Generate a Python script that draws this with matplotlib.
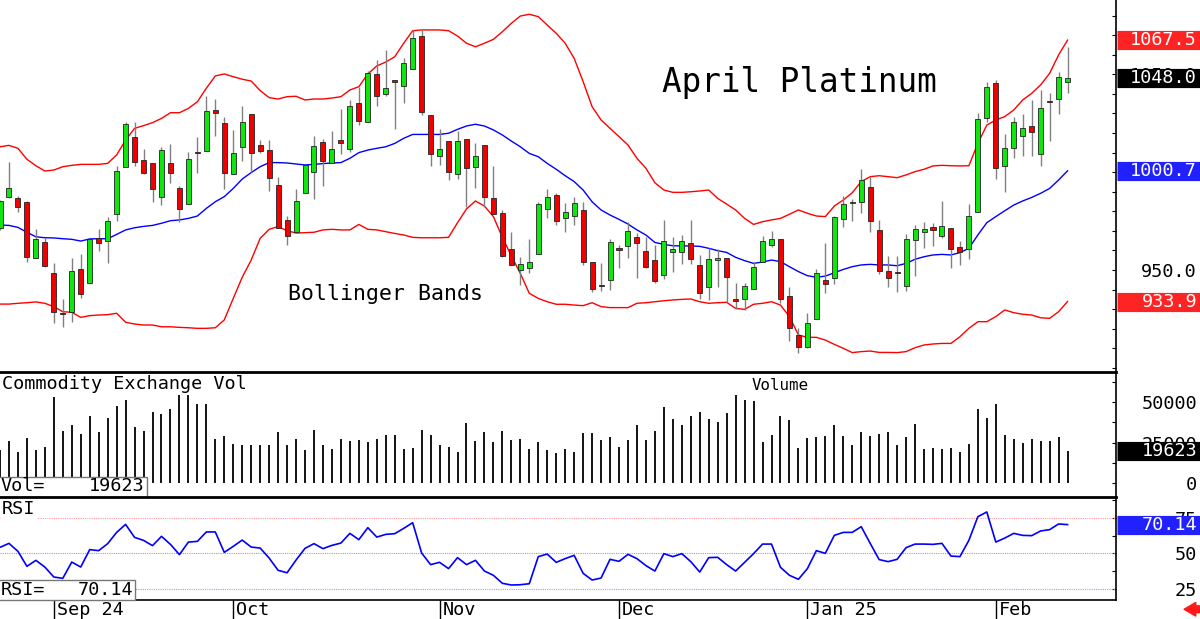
import matplotlib
matplotlib.use("Agg")
import matplotlib.pyplot as plt
import matplotlib.transforms as mtransforms
from matplotlib.patches import Rectangle
from matplotlib.ticker import MultipleLocator

plt.rcParams['font.family'] = 'DejaVu Sans Mono'

# month boundaries (candle index) and their labels
month_idx = [6, 26, 49, 69, 90, 111]
month_labels = ['Sep 24', 'Oct', 'Nov', 'Dec', 'Jan 25', 'Feb']

# daily OHLC, April platinum (Aug 23 2024 .. Feb 13 2025)
opens = [971.6, 987.5, 986.6, 984.9, 956.3, 964.5, 948.6, 927.9, 928.7, 950.7,
         943.5, 966.5, 964.7, 978.8, 1002.5, 1018.0, 1006.2, 1004.9, 987.5, 1004.5,
         991.7, 983.7, 1010.0, 1010.7, 1031.8, 1025.3, 999.1, 1012.9, 1029.9, 1013.7,
         1011.5, 993.3, 975.6, 969.3, 989.4, 1000.3, 1015.3, 1004.7, 1016.4, 1012.0,
         1035.2, 1025.6, 1050.4, 1039.8, 1047.1, 1044.0, 1052.7, 1069.6, 1029.1, 1008.4,
         1016.1, 998.9, 1016.8, 1002.5, 1014.1, 987.0, 979.0, 960.7, 950.0, 951.0,
         958.2, 981.2, 988.3, 976.6, 977.6, 980.7, 954.1, 942.2, 944.9, 961.4,
         962.4, 966.7, 959.6, 954.9, 947.5, 959.2, 959.4, 964.0, 952.6, 941.3,
         955.3, 956.3, 935.0, 935.0, 940.5, 954.1, 962.8, 966.0, 936.9, 916.8,
         910.8, 925.0, 944.9, 945.8, 975.9, 984.1, 985.0, 992.3, 970.5, 949.5,
         949.0, 941.8, 965.3, 969.6, 972.0, 967.4, 971.3, 961.8, 960.6, 979.5,
         1027.5, 1045.4, 1003.2, 1012.2, 1018.7, 1023.8, 1009.1, 1036.0, 1037.2, 1046.3]
highs = [985.8, 1005.4, 988.0, 985.3, 971.1, 966.2, 953.4, 935.0, 956.0, 958.2,
         966.0, 970.8, 977.1, 1003.2, 1025.6, 1025.5, 1012.0, 1004.9, 1013.0, 1014.2,
         993.0, 1010.1, 1018.2, 1038.8, 1037.4, 1028.4, 1021.6, 1034.0, 1029.9, 1016.4,
         1016.4, 997.7, 977.6, 991.6, 1003.5, 1018.5, 1017.0, 1020.9, 1032.1, 1036.9,
         1043.7, 1051.5, 1057.3, 1062.4, 1047.1, 1058.2, 1072.7, 1072.7, 1029.1, 1022.1,
         1016.1, 1021.2, 1016.8, 1014.7, 1014.1, 1003.2, 980.7, 969.6, 956.8, 965.7,
         984.8, 991.4, 989.2, 984.1, 987.5, 984.8, 954.1, 953.4, 966.0, 962.8,
         974.7, 968.7, 967.0, 962.8, 975.6, 967.0, 967.9, 975.6, 957.7, 961.4,
         960.6, 956.3, 943.5, 943.5, 954.3, 967.6, 969.9, 966.0, 941.5, 920.2,
         928.2, 950.3, 963.6, 977.6, 987.8, 986.1, 1001.6, 997.7, 975.6, 957.2,
         957.2, 968.2, 973.0, 974.7, 974.2, 985.3, 971.5, 965.0, 983.7, 1030.1,
         1046.3, 1047.1, 1019.5, 1028.4, 1029.6, 1036.9, 1042.0, 1040.3, 1051.4, 1063.8]
lows = [970.5, 987.0, 979.8, 953.9, 956.0, 951.4, 923.1, 921.1, 923.3, 935.5,
        943.5, 959.9, 953.8, 975.2, 1002.5, 1003.3, 999.1, 985.0, 983.4, 994.6,
        974.7, 983.7, 999.4, 1010.7, 1018.7, 991.2, 999.1, 1005.7, 999.9, 1009.6,
        990.6, 971.6, 962.8, 969.3, 989.4, 986.5, 993.1, 1004.7, 1009.3, 1010.5,
        1024.1, 1025.6, 1033.8, 1039.1, 1022.1, 1035.2, 1052.7, 1029.2, 1003.3, 1003.7,
        996.0, 996.5, 982.4, 991.7, 982.4, 978.5, 956.5, 952.6, 942.3, 948.3,
        958.2, 976.4, 972.8, 969.3, 973.2, 952.6, 938.9, 939.3, 940.0, 951.2,
        956.3, 945.9, 950.9, 943.5, 945.2, 948.8, 952.9, 952.9, 935.2, 934.7,
        941.2, 933.8, 930.2, 929.6, 940.5, 954.1, 961.6, 933.0, 913.9, 907.4,
        910.0, 925.0, 938.1, 942.9, 971.8, 975.2, 979.0, 969.3, 947.8, 941.2,
        938.6, 939.3, 947.1, 961.1, 962.4, 966.5, 950.9, 952.4, 955.5, 979.5,
        1025.5, 996.5, 989.9, 1007.4, 1008.4, 1008.4, 1003.3, 1016.1, 1029.6, 1040.6]
closes = [985.3, 992.1, 982.4, 956.5, 965.9, 952.1, 928.7, 927.4, 949.5, 937.9,
          965.9, 963.8, 975.1, 1000.4, 1024.6, 1005.0, 999.8, 991.6, 1011.2, 999.4,
          981.2, 1006.9, 1009.6, 1031.3, 1030.4, 999.8, 1010.0, 1025.6, 1010.0, 1011.0,
          996.9, 971.6, 967.2, 985.1, 1003.5, 1013.4, 1005.7, 1012.0, 1015.1, 1033.8,
          1026.3, 1050.5, 1039.1, 1042.9, 1045.9, 1055.6, 1068.4, 1030.9, 1009.1, 1011.9,
          999.9, 1015.9, 1002.1, 1008.3, 987.5, 978.5, 957.2, 952.6, 952.9, 953.9,
          983.7, 987.5, 974.9, 979.5, 984.3, 954.1, 940.1, 941.8, 964.1, 960.4,
          969.9, 963.8, 951.7, 944.6, 965.0, 960.6, 965.0, 955.5, 938.1, 955.6,
          956.3, 946.3, 934.0, 941.8, 951.7, 965.0, 965.7, 935.2, 920.2, 910.8,
          922.8, 948.3, 942.9, 976.9, 983.7, 984.6, 996.0, 975.2, 949.5, 945.8,
          948.6, 965.9, 970.8, 971.1, 970.5, 972.3, 960.6, 959.4, 977.6, 1027.2,
          1043.7, 1002.3, 1012.5, 1025.8, 1022.6, 1020.7, 1032.6, 1035.7, 1048.8, 1048.0]

# Bollinger bands as drawn on the chart
upper_band = [1013.0, 1013.7, 1012.2, 1006.6, 1003.3, 1000.6, 1001.1, 1002.8, 1003.5, 1004.0,
              1004.0, 1004.0, 1004.5, 1008.8, 1016.4, 1022.4, 1023.8, 1025.3, 1027.5, 1030.4,
              1030.4, 1032.6, 1036.0, 1042.9, 1049.2, 1050.2, 1048.8, 1047.5, 1046.6, 1041.7,
              1038.1, 1037.4, 1038.6, 1038.8, 1036.9, 1037.4, 1037.4, 1037.9, 1038.6, 1042.0,
              1043.7, 1050.2, 1054.3, 1056.3, 1059.0, 1065.9, 1072.3, 1072.7, 1072.7, 1072.7,
              1072.3, 1069.6, 1065.9, 1064.1, 1065.9, 1067.9, 1071.8, 1076.1, 1079.8, 1080.7,
              1079.5, 1075.2, 1071.0, 1065.9, 1058.2, 1046.3, 1033.5, 1026.7, 1022.4, 1018.2,
              1013.9, 1007.1, 1002.0, 994.6, 990.9, 989.7, 989.7, 990.0, 990.4, 990.9,
              986.6, 983.7, 980.7, 976.4, 973.3, 974.7, 975.6, 976.4, 978.5, 980.7,
              979.0, 977.6, 977.3, 982.7, 985.8, 989.5, 995.2, 997.7, 998.2, 997.7,
              997.2, 998.6, 1000.3, 1001.5, 1003.2, 1003.5, 1003.3, 1003.2, 1003.3, 1014.7,
              1024.1, 1026.7, 1028.4, 1031.8, 1036.9, 1040.3, 1044.6, 1050.5, 1059.9, 1067.5]
mid_band = [973.0, 972.8, 971.8, 969.3, 967.0, 966.5, 966.4, 966.0, 965.7, 964.8,
            965.9, 966.0, 966.0, 968.2, 970.5, 971.6, 972.3, 972.8, 973.9, 975.2,
            975.6, 976.4, 977.6, 981.5, 984.9, 987.5, 991.7, 996.5, 999.8, 1002.8,
            1004.9, 1004.9, 1004.7, 1004.2, 1003.7, 1004.0, 1004.4, 1004.7, 1004.9, 1007.1,
            1010.0, 1011.3, 1012.2, 1013.0, 1014.7, 1017.3, 1019.3, 1019.3, 1019.3, 1019.3,
            1019.9, 1021.9, 1023.6, 1024.5, 1023.6, 1021.6, 1019.0, 1015.9, 1013.0, 1009.6,
            1007.9, 1004.5, 1001.5, 998.2, 995.2, 990.9, 984.9, 980.7, 978.1, 975.9,
            973.5, 970.5, 967.9, 964.1, 963.1, 962.4, 962.3, 962.3, 962.1, 961.1,
            959.9, 959.0, 956.5, 954.8, 953.4, 954.1, 955.1, 954.3, 951.7, 949.2,
            947.1, 946.3, 946.9, 948.6, 950.3, 951.7, 952.6, 952.9, 952.6, 952.6,
            952.2, 953.4, 955.5, 956.8, 957.7, 958.0, 957.7, 958.9, 961.1, 967.9,
            974.2, 977.3, 980.3, 983.2, 985.3, 987.1, 989.2, 991.7, 996.0, 1000.7]
lower_band = [932.6, 932.6, 933.0, 933.3, 933.7, 933.0, 931.3, 928.7, 928.4, 925.8,
              926.7, 927.0, 927.2, 927.9, 923.3, 922.4, 921.9, 921.9, 921.0, 921.0,
              920.7, 920.5, 920.2, 920.2, 920.5, 924.5, 935.5, 946.3, 955.1, 966.2,
              970.8, 972.2, 970.1, 968.9, 969.1, 969.3, 970.5, 970.8, 970.5, 970.5,
              973.3, 970.8, 970.5, 969.6, 968.7, 967.9, 966.7, 966.5, 966.5, 966.5,
              966.7, 974.2, 981.2, 985.3, 982.7, 977.3, 966.7, 957.2, 948.3, 938.1,
              935.5, 933.8, 932.5, 932.5, 932.1, 931.8, 933.3, 931.3, 930.8, 930.8,
              930.8, 933.0, 933.3, 933.8, 934.3, 934.7, 935.0, 935.2, 933.8, 933.0,
              933.3, 933.5, 930.4, 929.9, 932.5, 933.0, 933.8, 932.1, 926.2, 916.8,
              915.6, 915.6, 914.2, 912.0, 910.0, 907.8, 908.3, 908.6, 907.9, 907.9,
              907.8, 908.3, 910.3, 911.7, 912.2, 912.5, 912.5, 915.9, 920.2, 923.6,
              923.6, 926.2, 929.6, 928.2, 927.4, 927.0, 925.6, 925.3, 928.7, 933.9]

volume = [20300, 25900, 19300, 27800, 20300, 22200, 53100, 32000, 36100, 30500,
          41500, 31500, 40000, 47700, 51500, 34400, 32000, 44000, 42700, 46100,
          54600, 54600, 49000, 49000, 27200, 29300, 24300, 23200, 23700, 23700,
          23700, 31300, 23700, 27200, 20100, 32800, 23200, 21200, 27200, 25900,
          26800, 25300, 27200, 29700, 29700, 20800, 21600, 32800, 29900, 23200,
          22200, 19100, 37400, 25900, 31500, 25300, 32000, 26400, 27200, 20800,
          25300, 20100, 18700, 21200, 19300, 30900, 30700, 26400, 28200, 22200,
          26800, 35900, 26800, 32000, 47100, 39600, 35900, 41500, 44000, 39600,
          37600, 43200, 54800, 51300, 50600, 25300, 29900, 41500, 39000, 21600,
          27800, 28600, 29300, 35900, 29300, 23700, 31300, 28800, 30300, 31300,
          23200, 28400, 36500, 20800, 21600, 20800, 21600, 19100, 24300, 45700,
          40500, 49200, 29700, 27200, 24700, 27200, 25900, 26100, 28200, 19623]

rsi = [54.2, 57.0, 51.4, 40.9, 45.1, 40.4, 33.4, 32.5, 43.9, 40.4,
       52.6, 51.9, 56.8, 64.7, 70.3, 61.2, 59.1, 55.4, 61.9, 56.3,
       49.1, 57.9, 58.4, 65.0, 65.0, 50.7, 54.9, 59.3, 54.4, 53.7,
       46.7, 38.1, 36.4, 45.3, 53.5, 56.8, 53.3, 55.6, 57.2, 64.0,
       59.6, 68.0, 61.4, 63.3, 63.8, 67.5, 71.5, 50.2, 42.1, 43.7,
       39.3, 47.0, 42.1, 45.1, 37.6, 34.6, 29.0, 27.8, 28.0, 28.7,
       47.7, 49.5, 43.7, 46.3, 48.6, 36.0, 31.3, 32.7, 45.8, 44.4,
       49.3, 46.3, 41.4, 37.6, 49.8, 47.7, 49.8, 44.2, 36.9, 47.0,
       47.2, 42.1, 37.6, 43.7, 49.8, 56.5, 56.5, 40.2, 34.6, 31.8,
       39.3, 51.9, 50.0, 62.6, 64.7, 64.7, 68.7, 57.0, 45.6, 44.2,
       45.8, 54.0, 56.5, 56.5, 56.3, 57.0, 48.1, 47.7, 59.1, 75.7,
       79.0, 57.9, 60.7, 64.0, 62.6, 62.4, 65.7, 66.6, 70.6, 70.14]

idx = list(range(len(closes)))
last_vol = volume[-1]
last_rsi = rsi[-1]

GREEN = '#0ee60e'
RED = '#f20000'
BOX_RED = '#ff2424'
BOX_BLUE = '#2121ff'
FS = 13.3

W, H = 1200, 619
fig = plt.figure(figsize=(W / 100, H / 100), dpi=100)
fig.patch.set_facecolor('white')


def add_panel(top, bottom):
    return fig.add_axes([0, (H - bottom) / H, 1116 / W, (bottom - top) / H])


ax_p = add_panel(0, 371)
ax_v = add_panel(372, 497)
ax_r = add_panel(497, 600)

for ax in (ax_p, ax_v, ax_r):
    ax.set_xlim(0, 124.4)
    ax.spines['left'].set_visible(False)
    ax.spines['right'].set_linewidth(1.2)
    ax.tick_params(axis='x', bottom=False, labelbottom=False)
    ax.yaxis.tick_right()
    ax.tick_params(axis='y', which='both', direction='in', length=3, width=0.8,
                   labelsize=FS, pad=58.3)

ax_p.spines['top'].set_visible(False)
ax_p.spines['bottom'].set_visible(False)
ax_v.spines['bottom'].set_visible(False)
ax_v.spines['top'].set_linewidth(2)
ax_r.spines['top'].set_linewidth(2)
ax_r.spines['bottom'].set_linewidth(1.2)


def value_box(ax, y, text, color):
    tr = mtransforms.blended_transform_factory(ax.transAxes, ax.transData)
    ax.plot([1.001, 1.08], [y, y], transform=tr, color=color, lw=13.8,
            solid_capstyle='butt', clip_on=False, zorder=6)
    ax.text(1.0726, y, text, transform=tr, color='white', ha='right',
            va='center', fontsize=FS, zorder=7, clip_on=False)


# ---- price panel ----
ax_p.set_ylim(898.4, 1088.0)
ax_p.plot(idx, upper_band, color='#ff0000', lw=1.0, zorder=1)
ax_p.plot(idx, lower_band, color='#ff0000', lw=1.0, zorder=1)
ax_p.plot(idx, mid_band, color='#0000ff', lw=1.0, zorder=1)

ax_p.vlines(idx, lows, highs, color='#808080', lw=1.0, zorder=2)
bottoms = [min(o, c) for o, c in zip(opens, closes)]
heights = [max(abs(c - o), 0.5) for o, c in zip(opens, closes)]
colors = [GREEN if c >= o else RED for o, c in zip(opens, closes)]
ax_p.bar(idx, heights, bottom=bottoms, width=0.56, color=colors,
         edgecolor='#222222', linewidth=0.6, zorder=3)

# 1000.0 sits fully under the mid-band box in the original, so no label there
ax_p.set_yticks([950, 1000, 1050], ['950.0', '', '1050.0'])
ax_p.yaxis.set_minor_locator(MultipleLocator(10))
for lab in ax_p.get_yticklabels():
    lab.set_horizontalalignment('right')

ax_p.text(73.8, 1045.6, 'April Platinum', fontsize=23.5, va='center', ha='left')
ax_p.text(32.1, 937.7, 'Bollinger Bands', fontsize=15.5, va='center', ha='left')

value_box(ax_p, upper_band[-1], f'{upper_band[-1]:.1f}', BOX_RED)
value_box(ax_p, closes[-1], f'{closes[-1]:.1f}', 'black')
value_box(ax_p, mid_band[-1], f'{mid_band[-1]:.1f}', BOX_BLUE)
value_box(ax_p, lower_band[-1], f'{lower_band[-1]:.1f}', BOX_RED)

# ---- volume panel ----
ax_v.set_ylim(-8890, 68840)
ax_v.vlines(idx, 0, volume, color='black', lw=1.3)
ax_v.set_yticks([0, 25000, 50000], ['0', '25000', '50000'])
ax_v.yaxis.set_minor_locator(MultipleLocator(12500))
for lab in ax_v.get_yticklabels():
    lab.set_horizontalalignment('right')
ax_v.text(0.002, 0.905, 'Commodity Exchange Vol', transform=ax_v.transAxes,
          fontsize=FS, va='center', ha='left')
ax_v.text(83.8, 0.89, 'Volume', transform=ax_v.get_xaxis_transform(),
          fontsize=11.4, va='center', ha='left')
ax_v.add_patch(Rectangle((-0.002, 0.0), 0.1335, 0.163, transform=ax_v.transAxes,
                         facecolor='white', edgecolor='#777777', lw=1, zorder=5))
ax_v.text(0.0005, 0.085, 'Vol=', transform=ax_v.transAxes, fontsize=FS,
          va='center', ha='left', zorder=6)
ax_v.text(0.1295, 0.085, f'{last_vol}', transform=ax_v.transAxes, fontsize=FS,
          va='center', ha='right', zorder=6)
value_box(ax_v, last_vol, f'{last_vol}', 'black')

# ---- RSI panel ----
ax_r.set_ylim(17.3, 89.5)
ax_r.axhline(75, color='#ff9c9c', lw=0.8, ls=(0, (1, 1)))
ax_r.axhline(50, color='#a0a0a0', lw=0.8, ls=(0, (1, 1)))
ax_r.axhline(25, color='#9c9cff', lw=0.8, ls=(0, (1, 1)))
ax_r.plot(idx, rsi, color='#0000ff', lw=1.2, zorder=3)
ax_r.set_yticks([25, 50, 75], ['25', '50', '75'])
ax_r.yaxis.set_minor_locator(MultipleLocator(12.5))
for lab in ax_r.get_yticklabels():
    lab.set_horizontalalignment('right')
ax_r.text(0.002, 0.88, 'RSI', transform=ax_r.transAxes, fontsize=FS, va='center',
          ha='left', zorder=6, bbox=dict(fc='white', ec='none', pad=1))
ax_r.add_patch(Rectangle((-0.002, 0.0), 0.1232, 0.194, transform=ax_r.transAxes,
                         facecolor='white', edgecolor='#777777', lw=1, zorder=5,
                         clip_on=False))
ax_r.text(0.0005, 0.1, 'RSI=', transform=ax_r.transAxes, fontsize=FS,
          va='center', ha='left', zorder=6)
ax_r.text(0.1195, 0.1, f'{last_rsi:.2f}', transform=ax_r.transAxes, fontsize=FS,
          va='center', ha='right', zorder=6)
value_box(ax_r, last_rsi, f'{last_rsi:.2f}', BOX_BLUE)

# month separators under the chart
ax_r.set_xticks(month_idx)
ax_r.tick_params(axis='x', bottom=True, direction='out', length=14, width=1.0,
                 color='black', labelbottom=False)
for xi, lab in zip(month_idx, month_labels):
    ax_r.annotate(lab, xy=(xi, 0), xycoords=('data', 'axes fraction'),
                  xytext=(2.0, -7.3), textcoords='offset points',
                  ha='left', va='center', fontsize=FS)

# small red arrow, bottom right
ax_r.annotate('', xy=(1.061, -0.09), xytext=(1.075, -0.09), xycoords='axes fraction',
              arrowprops=dict(arrowstyle='simple,head_length=0.6,head_width=0.7,tail_width=0.35',
                              color='#ff1a1a', shrinkA=0, shrinkB=0, mutation_scale=14))

fig.savefig('out.png', dpi=100, facecolor='white')
